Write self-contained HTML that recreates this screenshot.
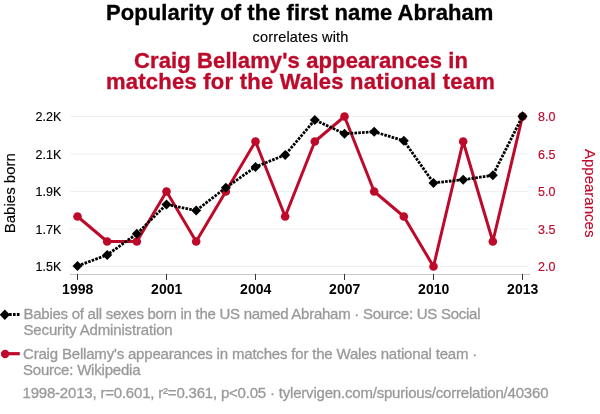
<!DOCTYPE html>
<html><head><meta charset="utf-8"><style>
html,body{margin:0;padding:0;background:#fff;}
body{width:600px;height:414px;overflow:hidden;position:relative;font-family:"Liberation Sans",sans-serif;}
svg{position:absolute;left:0;top:0;will-change:transform;}
text{font-family:"Liberation Sans",sans-serif;}
.yr{font-size:14px;font-weight:bold;fill:#000;}
.tk{font-size:12.5px;fill:#000;stroke:#000;stroke-width:0.15px;}
.rd{fill:#bd0a2b;stroke:#bd0a2b;}
.ax{font-size:15px;stroke-width:0.15px;}
</style></head><body>
<svg width="600" height="414" viewBox="0 0 600 414">
<g id="chart">
<text transform="translate(15,193.2) rotate(-90)" class="ax" text-anchor="middle" fill="#000" stroke="#000">Babies born</text>
<text transform="translate(584.7,193.2) rotate(90)" class="ax" text-anchor="middle" fill="#bd0a2b" stroke="#bd0a2b">Appearances</text>
<line x1="70" x2="528" y1="116.5" y2="116.5" stroke="#efefef" stroke-width="1"/>
<line x1="70" x2="528" y1="154" y2="154" stroke="#efefef" stroke-width="1"/>
<line x1="70" x2="528" y1="191.5" y2="191.5" stroke="#efefef" stroke-width="1"/>
<line x1="70" x2="528" y1="229" y2="229" stroke="#efefef" stroke-width="1"/>
<line x1="70" x2="528" y1="266.5" y2="266.5" stroke="#efefef" stroke-width="1"/>
<line x1="70" x2="530" y1="274.5" y2="274.5" stroke="#c8c8c8" stroke-width="1"/>
<line x1="77.5" x2="77.5" y1="274" y2="280" stroke="#333" stroke-width="1"/>
<text x="77.70" y="294.3" class="yr" text-anchor="middle">1998</text>
<line x1="166.5" x2="166.5" y1="274" y2="280" stroke="#333" stroke-width="1"/>
<text x="166.70" y="294.3" class="yr" text-anchor="middle">2001</text>
<line x1="255.5" x2="255.5" y1="274" y2="280" stroke="#333" stroke-width="1"/>
<text x="255.70" y="294.3" class="yr" text-anchor="middle">2004</text>
<line x1="344.5" x2="344.5" y1="274" y2="280" stroke="#333" stroke-width="1"/>
<text x="344.70" y="294.3" class="yr" text-anchor="middle">2007</text>
<line x1="433.5" x2="433.5" y1="274" y2="280" stroke="#333" stroke-width="1"/>
<text x="433.70" y="294.3" class="yr" text-anchor="middle">2010</text>
<line x1="522.5" x2="522.5" y1="274" y2="280" stroke="#333" stroke-width="1"/>
<text x="522.70" y="294.3" class="yr" text-anchor="middle">2013</text>
<text x="61.3" y="121.0" class="tk" text-anchor="end">2.2K</text>
<text x="538" y="121.0" class="tk rd">8.0</text>
<text x="61.3" y="158.5" class="tk" text-anchor="end">2.1K</text>
<text x="538" y="158.5" class="tk rd">6.5</text>
<text x="61.3" y="196.0" class="tk" text-anchor="end">1.9K</text>
<text x="538" y="196.0" class="tk rd">5.0</text>
<text x="61.3" y="233.5" class="tk" text-anchor="end">1.7K</text>
<text x="538" y="233.5" class="tk rd">3.5</text>
<text x="61.3" y="271.0" class="tk" text-anchor="end">1.5K</text>
<text x="538" y="271.0" class="tk rd">2.0</text>
<polyline points="77.50,216.50 107.17,241.50 136.83,241.50 166.50,191.50 196.17,241.50 225.83,191.50 255.50,141.50 285.17,216.50 314.83,141.50 344.50,116.50 374.17,191.50 403.83,216.50 433.50,266.50 463.17,141.50 492.83,241.50 522.50,116.50" fill="none" stroke="#bd0a2b" stroke-width="3" stroke-linejoin="round"/>
<circle cx="77.50" cy="216.50" r="4.3" fill="#bd0a2b"/>
<circle cx="107.17" cy="241.50" r="4.3" fill="#bd0a2b"/>
<circle cx="136.83" cy="241.50" r="4.3" fill="#bd0a2b"/>
<circle cx="166.50" cy="191.50" r="4.3" fill="#bd0a2b"/>
<circle cx="196.17" cy="241.50" r="4.3" fill="#bd0a2b"/>
<circle cx="225.83" cy="191.50" r="4.3" fill="#bd0a2b"/>
<circle cx="255.50" cy="141.50" r="4.3" fill="#bd0a2b"/>
<circle cx="285.17" cy="216.50" r="4.3" fill="#bd0a2b"/>
<circle cx="314.83" cy="141.50" r="4.3" fill="#bd0a2b"/>
<circle cx="344.50" cy="116.50" r="4.3" fill="#bd0a2b"/>
<circle cx="374.17" cy="191.50" r="4.3" fill="#bd0a2b"/>
<circle cx="403.83" cy="216.50" r="4.3" fill="#bd0a2b"/>
<circle cx="433.50" cy="266.50" r="4.3" fill="#bd0a2b"/>
<circle cx="463.17" cy="141.50" r="4.3" fill="#bd0a2b"/>
<circle cx="492.83" cy="241.50" r="4.3" fill="#bd0a2b"/>
<circle cx="522.50" cy="116.50" r="4.3" fill="#bd0a2b"/>
<polyline points="77.50,266.00 107.17,254.90 136.83,233.80 166.50,204.40 196.17,210.50 225.83,187.70 255.50,166.90 285.17,154.90 314.83,119.90 344.50,133.80 374.17,131.80 403.83,140.70 433.50,182.90 463.17,179.75 492.83,175.30 522.50,116.20" fill="none" stroke="#000" stroke-width="2.8" stroke-dasharray="2.6,1.2"/>
<path d="M77.50,261.00 L82.50,266.00 L77.50,271.00 L72.50,266.00Z" fill="#000"/>
<path d="M107.17,249.90 L112.17,254.90 L107.17,259.90 L102.17,254.90Z" fill="#000"/>
<path d="M136.83,228.80 L141.83,233.80 L136.83,238.80 L131.83,233.80Z" fill="#000"/>
<path d="M166.50,199.40 L171.50,204.40 L166.50,209.40 L161.50,204.40Z" fill="#000"/>
<path d="M196.17,205.50 L201.17,210.50 L196.17,215.50 L191.17,210.50Z" fill="#000"/>
<path d="M225.83,182.70 L230.83,187.70 L225.83,192.70 L220.83,187.70Z" fill="#000"/>
<path d="M255.50,161.90 L260.50,166.90 L255.50,171.90 L250.50,166.90Z" fill="#000"/>
<path d="M285.17,149.90 L290.17,154.90 L285.17,159.90 L280.17,154.90Z" fill="#000"/>
<path d="M314.83,114.90 L319.83,119.90 L314.83,124.90 L309.83,119.90Z" fill="#000"/>
<path d="M344.50,128.80 L349.50,133.80 L344.50,138.80 L339.50,133.80Z" fill="#000"/>
<path d="M374.17,126.80 L379.17,131.80 L374.17,136.80 L369.17,131.80Z" fill="#000"/>
<path d="M403.83,135.70 L408.83,140.70 L403.83,145.70 L398.83,140.70Z" fill="#000"/>
<path d="M433.50,177.90 L438.50,182.90 L433.50,187.90 L428.50,182.90Z" fill="#000"/>
<path d="M463.17,174.75 L468.17,179.75 L463.17,184.75 L458.17,179.75Z" fill="#000"/>
<path d="M492.83,170.30 L497.83,175.30 L492.83,180.30 L487.83,175.30Z" fill="#000"/>
<path d="M522.50,111.20 L527.50,116.20 L522.50,121.20 L517.50,116.20Z" fill="#000"/>
<line x1="9.1" x2="20" y1="314.6" y2="314.6" stroke="#000" stroke-width="3" stroke-dasharray="2.6,1.3"/>
<path d="M4.8,309.6 L9.9,314.8 L4.8,320 L-0.3,314.8Z" fill="#000"/>
<line x1="5" x2="19.8" y1="353.7" y2="353.7" stroke="#bd0a2b" stroke-width="3.2"/>
<circle cx="5.1" cy="354" r="4.2" fill="#bd0a2b"/>
</g>
<text id="title" x="106.00" y="20.00" font-size="22" font-weight="bold" fill="#000" stroke="#000" stroke-width="0.35" textLength="387.28" lengthAdjust="spacing">Popularity of the first name Abraham</text>
<text id="sub" x="252.50" y="41.50" font-size="14.5" font-weight="normal" fill="#000" stroke="#000" stroke-width="0.15" textLength="95.88" lengthAdjust="spacing">correlates with</text>
<text id="red1" x="134.00" y="67.70" font-size="22" font-weight="bold" fill="#bd0a2b" stroke="#bd0a2b" stroke-width="0.35" textLength="333.90" lengthAdjust="spacing">Craig Bellamy's appearances in</text>
<text id="red2" x="106.00" y="89.40" font-size="22" font-weight="bold" fill="#bd0a2b" stroke="#bd0a2b" stroke-width="0.35" textLength="388.83" lengthAdjust="spacing">matches for the Wales national team</text>
<text id="lg1" x="23.50" y="318.70" font-size="15" font-weight="normal" fill="#999999" stroke="#999999" stroke-width="0.3" textLength="457.02" lengthAdjust="spacing">Babies of all sexes born in the US named Abraham · Source: US Social</text>
<text id="lg2" x="23.50" y="334.60" font-size="15" font-weight="normal" fill="#999999" stroke="#999999" stroke-width="0.3" textLength="149.18" lengthAdjust="spacing">Security Administration</text>
<text id="lg3" x="23.00" y="358.60" font-size="15" font-weight="normal" fill="#999999" stroke="#999999" stroke-width="0.3" textLength="454.30" lengthAdjust="spacing">Craig Bellamy's appearances in matches for the Wales national team ·</text>
<text id="lg4" x="23.00" y="374.50" font-size="15" font-weight="normal" fill="#999999" stroke="#999999" stroke-width="0.3" textLength="117.49" lengthAdjust="spacing">Source: Wikipedia</text>
<text id="foot" x="22.50" y="397.50" font-size="15" font-weight="normal" fill="#999999" stroke="#999999" stroke-width="0.3" textLength="525.99" lengthAdjust="spacing">1998-2013, r=0.601, r²=0.361, p&lt;0.05 · tylervigen.com/spurious/correlation/40360</text>
</svg>
</body></html>
